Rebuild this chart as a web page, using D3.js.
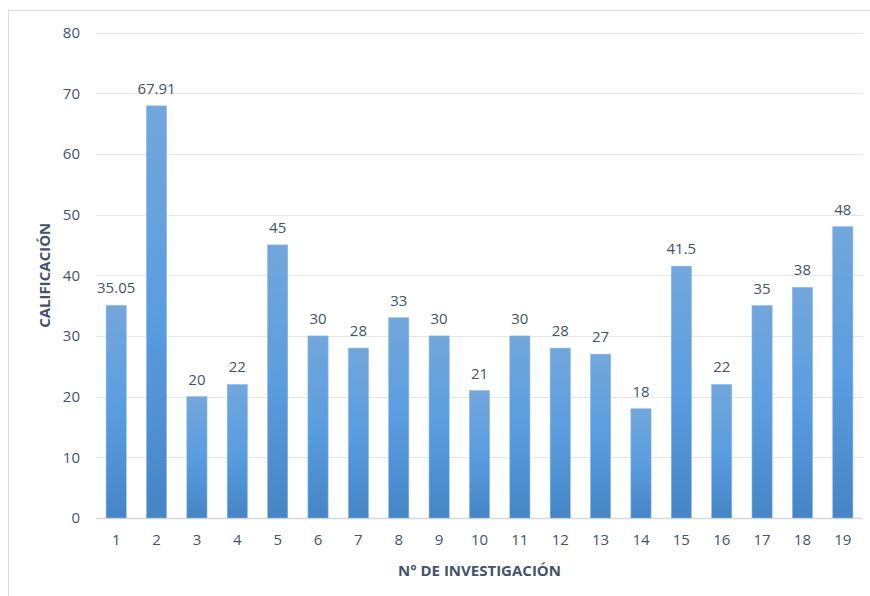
<!DOCTYPE html>
<html>
<head>
<meta charset="utf-8">
<script src="https://cdn.jsdelivr.net/npm/d3@7"></script>
<style>
  html, body { margin: 0; padding: 0; background: #ffffff; }
  svg { display: block; }
  text { font-family: "Open Sans", "Lato", sans-serif; }
</style>
</head>
<body>
<svg id="chart" width="870" height="596"></svg>
<script>
// Research item numbers and their scores
const categories = ["1","2","3","4","5","6","7","8","9","10","11","12","13","14","15","16","17","18","19"];
const scores = [35.05, 67.91, 20, 22, 45, 30, 28, 33, 30, 21, 30, 28, 27, 18, 41.5, 22, 35, 38, 48];
const scoreLabels = ["35.05","67.91","20","22","45","30","28","33","30","21","30","28","27","18","41.5","22","35","38","48"];
const yTicks = [0, 10, 20, 30, 40, 50, 60, 70, 80];
const xTitle = "N° DE INVESTIGACIÓN";
const yTitle = "CALIFICACIÓN";

const svg = d3.select("#chart");
const W = 870, H = 596;
const plot = { left: 96, right: 863, top: 32.5, bottom: 518 };
const textColor = "#44546a";

// Outer chart frame
svg.append("rect")
  .attr("x", 8.5).attr("y", 10.5)
  .attr("width", W + 10).attr("height", H + 10)
  .attr("fill", "#ffffff")
  .attr("stroke", "#d9dde3").attr("stroke-width", 1);

// Bar gradient: lighter at the top, deeper towards the base
const defs = svg.append("defs");
const grad = defs.append("linearGradient")
  .attr("id", "barFill")
  .attr("x1", 0).attr("y1", 0).attr("x2", 0).attr("y2", 1);
grad.append("stop").attr("offset", "0%").attr("stop-color", "#72a7dc");
grad.append("stop").attr("offset", "50%").attr("stop-color", "#5a9de0");
grad.append("stop").attr("offset", "100%").attr("stop-color", "#4585c6");

const x = d3.scaleBand()
  .domain(categories)
  .range([plot.left, plot.right])
  .paddingInner(0.5)
  .paddingOuter(0.25);

const y = d3.scaleLinear()
  .domain([0, 80])
  .range([plot.bottom, plot.top]);

// Horizontal gridlines
svg.append("g")
  .selectAll("line")
  .data(yTicks)
  .join("line")
  .attr("x1", plot.left).attr("x2", plot.right)
  .attr("y1", d => Math.round(y(d)) + 0.5)
  .attr("y2", d => Math.round(y(d)) + 0.5)
  .attr("stroke", d => d === 0 ? "#d9d9d9" : "#e3e6ea")
  .attr("stroke-width", d => d === 0 ? 1.5 : 1);

// Y axis tick labels
const yAxis = d3.axisLeft(y).tickValues(yTicks).tickSize(0).tickPadding(0);
svg.append("g")
  .attr("transform", `translate(${plot.left - 16},0)`)
  .call(yAxis)
  .call(g => g.select(".domain").remove())
  .call(g => g.selectAll("text")
    .attr("fill", textColor)
    .attr("font-size", 15)
    .attr("font-family", "'Open Sans', sans-serif"));

// X axis tick labels
const xAxis = d3.axisBottom(x).tickSize(0).tickPadding(0);
svg.append("g")
  .attr("transform", `translate(0,${plot.bottom + 16})`)
  .call(xAxis)
  .call(g => g.select(".domain").remove())
  .call(g => g.selectAll("text")
    .attr("fill", textColor)
    .attr("font-size", 15)
    .attr("font-family", "'Open Sans', sans-serif"));

// Bars
svg.append("g")
  .selectAll("rect")
  .data(scores)
  .join("rect")
  .attr("x", (d, i) => x(categories[i]))
  .attr("y", d => y(d))
  .attr("width", x.bandwidth())
  .attr("height", d => y(0) - y(d))
  .attr("fill", "url(#barFill)")
  .attr("stroke", "#8dbbe6")
  .attr("stroke-width", 0.6);

// Value labels above the bars
svg.append("g")
  .selectAll("text")
  .data(scores)
  .join("text")
  .attr("x", (d, i) => x(categories[i]) + x.bandwidth() / 2)
  .attr("y", d => y(d) - 12)
  .attr("text-anchor", "middle")
  .attr("fill", textColor)
  .attr("font-size", 15)
  .text((d, i) => scoreLabels[i]);

// Axis titles
svg.append("text")
  .attr("x", (plot.left + plot.right) / 2)
  .attr("y", 576)
  .attr("text-anchor", "middle")
  .attr("fill", textColor)
  .attr("font-size", 15)
  .attr("font-weight", "bold")
  .text(xTitle);

svg.append("text")
  .attr("transform", `translate(50,${(plot.top + plot.bottom) / 2}) rotate(-90)`)
  .attr("text-anchor", "middle")
  .attr("fill", textColor)
  .attr("font-size", 15)
  .attr("font-weight", "bold")
  .text(yTitle);
</script>
</body>
</html>
